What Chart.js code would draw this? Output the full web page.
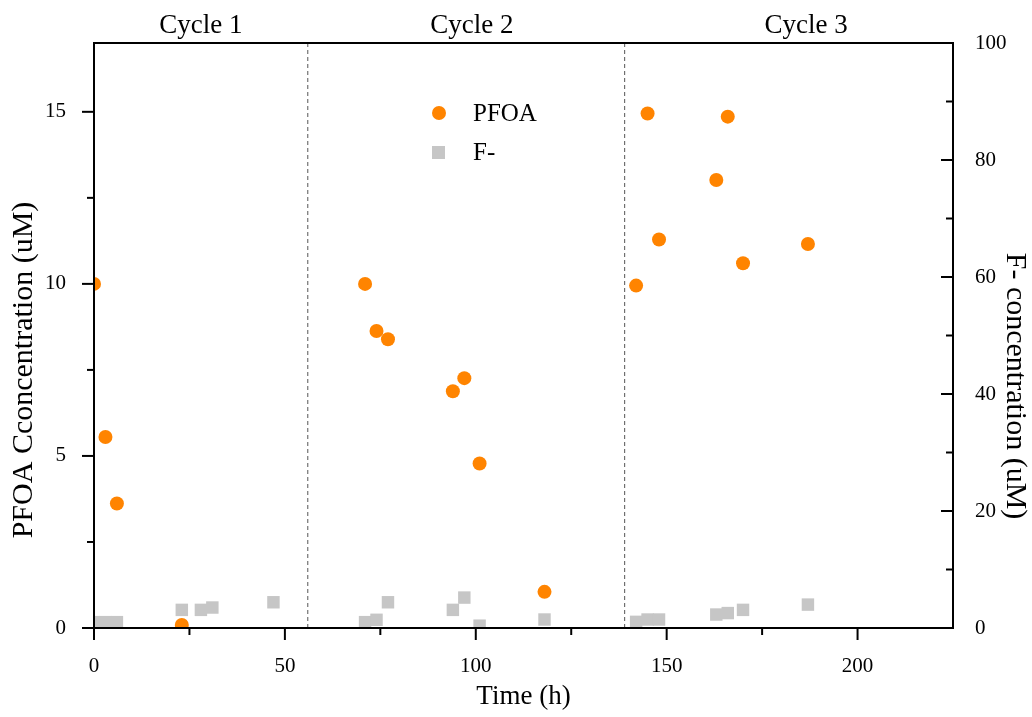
<!DOCTYPE html>
<html>
<head>
<meta charset="utf-8">
<script src="https://cdn.jsdelivr.net/npm/chart.js@4.4.1/dist/chart.umd.min.js"></script>
<style>
  html, body { margin: 0; padding: 0; background: #fff; }
  #wrap { width: 1032px; height: 717px; }
</style>
</head>
<body>
<div id="wrap"><canvas id="chart" width="1032" height="717"></canvas></div>
<script>
// PFOA (left axis, uM)
const pfoaTime = [0, 3, 6, 23, 71, 74, 77, 94, 97, 101, 118, 142, 145, 148, 163, 166, 170, 187];
const pfoaConc = [10.0, 5.55, 3.62, 0.09, 10.0, 8.63, 8.39, 6.88, 7.26, 4.78, 1.05, 9.95, 14.95, 11.29, 13.02, 14.86, 10.6, 11.16];

// F- (right axis, uM)
const fTime = [0, 3, 6, 23, 28, 31, 47, 71, 74, 77, 94, 97, 101, 118, 142, 145, 148, 163, 166, 170, 187];
const fConc = [1.0, 1.0, 1.0, 3.1, 3.1, 3.5, 4.4, 1.0, 1.4, 4.4, 3.1, 5.2, 0.4, 1.45, 1.05, 1.45, 1.45, 2.3, 2.55, 3.1, 4.0];

const xTicks = [0, 50, 100, 150, 200];
const leftTicks = [0, 5, 10, 15];
const rightTicks = [0, 20, 40, 60, 80, 100];

const cycleNames = ['Cycle 1', 'Cycle 2', 'Cycle 3'];
const cycleLabelAt = [28, 99, 186.5];   // time (h) under each label
const cycleBreaks = [56, 139];

const serif = "'Liberation Serif', 'Times New Roman', serif";
const orange = '#ff8400';
const grey = '#c6c6c6';

const toPoints = (xs, ys) => xs.map((x, i) => ({ x: x, y: ys[i] }));

const boundaryLines = cycleBreaks.map(x => ({
  data: [{ x: x, y: 0 }, { x: x, y: 17 }],
  yAxisID: 'y',
  showLine: true,
  pointRadius: 0,
  borderColor: '#555',
  borderWidth: 1,
  borderDash: [4, 3],
  clip: 0
}));

const framePlugin = {
  id: 'frame',
  afterDraw(chart) {
    const { ctx, chartArea: a, scales } = chart;
    ctx.save();
    ctx.strokeStyle = '#000';
    ctx.lineWidth = 2;
    ctx.strokeRect(a.left, a.top, a.right - a.left, a.bottom - a.top);

    const line = (x1, y1, x2, y2) => {
      ctx.beginPath(); ctx.moveTo(x1, y1); ctx.lineTo(x2, y2); ctx.stroke();
    };
    // bottom ticks, outward
    xTicks.forEach((v, i) => {
      const p = scales.x.getPixelForValue(v);
      line(p, a.bottom, p, a.bottom + 12);
      if (i < xTicks.length - 1) {
        const m = scales.x.getPixelForValue((v + xTicks[i + 1]) / 2);
        line(m, a.bottom, m, a.bottom + 7);
      }
    });
    // left ticks, outward
    leftTicks.forEach((v, i) => {
      const p = scales.y.getPixelForValue(v);
      line(a.left - 12, p, a.left, p);
      if (i < leftTicks.length - 1) {
        const m = scales.y.getPixelForValue((v + leftTicks[i + 1]) / 2);
        line(a.left - 7, m, a.left, m);
      }
    });
    // right ticks, inward
    rightTicks.forEach((v, i) => {
      const p = scales.y2.getPixelForValue(v);
      line(a.right, p, a.right - 12, p);
      if (i < rightTicks.length - 1) {
        const m = scales.y2.getPixelForValue((v + rightTicks[i + 1]) / 2);
        line(a.right, m, a.right - 7, m);
      }
    });

    ctx.fillStyle = '#000';
    // cycle labels above the plot
    ctx.font = '27px ' + serif;
    ctx.textAlign = 'center';
    ctx.textBaseline = 'alphabetic';
    cycleNames.forEach((name, i) => {
      ctx.fillText(name, scales.x.getPixelForValue(cycleLabelAt[i]), 33);
    });

    // axis titles for the two y axes
    ctx.font = '30px ' + serif;
    ctx.textBaseline = 'middle';
    ctx.save();
    ctx.translate(24, 370);
    ctx.rotate(-Math.PI / 2);
    ctx.fillText('PFOA Cconcentration (uM)', 0, 0);
    ctx.restore();
    ctx.save();
    ctx.translate(1015, 386);
    ctx.rotate(Math.PI / 2);
    ctx.fillText('F- concentration (uM)', 0, 0);
    ctx.restore();

    // legend
    ctx.font = '25px ' + serif;
    ctx.textAlign = 'left';
    ctx.fillStyle = orange;
    ctx.beginPath(); ctx.arc(439, 113, 7, 0, Math.PI * 2); ctx.fill();
    ctx.fillStyle = grey;
    ctx.fillRect(432, 146, 13, 13);
    ctx.fillStyle = '#000';
    ctx.fillText('PFOA', 473, 114);
    ctx.fillText('F-', 473, 153);
    ctx.restore();
  }
};

const tickFont = { family: serif, size: 21 };

new Chart(document.getElementById('chart'), {
  type: 'scatter',
  data: {
    datasets: [
      {
        label: 'PFOA',
        data: toPoints(pfoaTime, pfoaConc),
        yAxisID: 'y',
        pointStyle: 'circle',
        pointRadius: 7,
        pointBorderWidth: 0,
        backgroundColor: orange,
        borderColor: orange,
        clip: 0
      },
      {
        label: 'F-',
        data: toPoints(fTime, fConc),
        yAxisID: 'y2',
        pointStyle: 'rect',
        pointRadius: 8.8,
        pointBorderWidth: 0,
        backgroundColor: grey,
        borderColor: grey,
        clip: 0
      },
      ...boundaryLines
    ]
  },
  options: {
    responsive: false,
    animation: false,
    layout: { padding: { top: 43, left: 0, right: 0, bottom: 0 } },
    plugins: {
      legend: { display: false },
      tooltip: { enabled: false }
    },
    scales: {
      x: {
        type: 'linear',
        min: 0,
        max: 225,
        afterBuildTicks: s => { s.ticks = xTicks.map(v => ({ value: v })); },
        afterFit: s => { s.height = 89; },
        grid: { display: false },
        border: { display: false },
        ticks: { color: '#000', font: tickFont, padding: 18, maxRotation: 0 },
        title: { display: true, text: 'Time (h)', color: '#000', font: { family: serif, size: 27 }, padding: { bottom: 4 } }
      },
      y: {
        type: 'linear',
        position: 'left',
        min: 0,
        max: 17,
        afterBuildTicks: s => { s.ticks = leftTicks.map(v => ({ value: v })); },
        afterFit: s => { s.width = 94; },
        grid: { display: false },
        border: { display: false },
        ticks: { color: '#000', font: tickFont, padding: 20 }
      },
      y2: {
        type: 'linear',
        position: 'right',
        min: 0,
        max: 100,
        afterBuildTicks: s => { s.ticks = rightTicks.map(v => ({ value: v })); },
        afterFit: s => { s.width = 79; },
        grid: { display: false },
        border: { display: false },
        ticks: { color: '#000', font: tickFont, padding: 14 }
      }
    }
  },
  plugins: [framePlugin]
});
</script>
</body>
</html>
